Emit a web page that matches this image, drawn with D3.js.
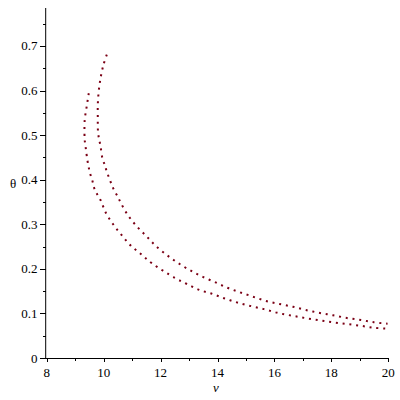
<!DOCTYPE html>
<html><head><meta charset="utf-8">
<script src="https://cdn.jsdelivr.net/npm/d3@7"></script>
<style>body{margin:0;background:#fff}svg{display:block}</style>
</head><body>
<svg id="c" width="400" height="400"></svg>
<script>
// Curve A (inner, lower) : v values and theta values
const innerV = [9.478,9.407,9.337,9.327,9.337,9.372,9.432,9.478,9.538,9.608,9.664,9.759,9.890,10.076,10.333,10.628,10.956,11.318,11.684,12.493,12.926,13.373,13.830,14.274,14.721,15.203,15.671,16.128,16.621,17.078,17.571,18.053,18.531,19.013,19.481,19.963];
const innerTheta = [0.594,0.565,0.535,0.503,0.4875,0.471,0.443,0.427,0.411,0.397,0.382,0.369,0.3545,0.326,0.300,0.276,0.252,0.2327,0.213,0.180,0.166,0.1526,0.1436,0.133,0.124,0.116,0.109,0.101,0.0949,0.0897,0.0846,0.0801,0.0763,0.0725,0.0680,0.0657];
// Curve B (outer, upper)
const outerV = [10.111,9.995,9.900,9.830,9.795,9.795,9.795,9.805,9.840,9.890,9.960,10.051,10.111,10.206,10.287,10.382,10.498,10.604,10.840,11.156,11.508,11.835,12.233,12.599,13.021,13.443,13.901,14.344,14.791,15.248,15.706,16.174,16.645,17.103,17.595,18.063,18.545,19.038,19.495,19.974];
const outerTheta = [0.6805,0.658,0.6305,0.5997,0.568,0.537,0.5205,0.5055,0.491,0.4757,0.447,0.4315,0.418,0.402,0.388,0.3747,0.362,0.348,0.3215,0.296,0.273,0.2513,0.2304,0.2138,0.1974,0.1833,0.1705,0.1577,0.1474,0.1375,0.1279,0.1212,0.1151,0.1077,0.1010,0.0958,0.0897,0.0853,0.0801,0.0770];
const xTicks = [8,10,12,14,16,18,20];
const xMinor = [9,11,13,15,17,19];
const yTicks = [0,0.1,0.2,0.3,0.4,0.5,0.6,0.7];
const yMinor = [0.05,0.15,0.25,0.35,0.45,0.55,0.65,0.75];
const yTickLabels = ["0","0.1","0.2","0.3","0.4","0.5","0.6","0.7"];
const xLabel = "v", yLabel = "θ";

const svg = d3.select("#c");
const x = d3.scaleLinear().domain([8,20]).range([46.7,388.3]);
const y = d3.scaleLinear().domain([0,0.785]).range([358,8.1]);
const col = "#7b0015";
const font = "Liberation Serif";

// axes lines
svg.append("line").attr("x1",45.7).attr("x2",388.5).attr("y1",358.5).attr("y2",358.5).attr("stroke","#000");
svg.append("line").attr("x1",45.7).attr("x2",45.7).attr("y1",8).attr("y2",358.5).attr("stroke","#000");

// x ticks
xTicks.forEach(t=>{
  svg.append("line").attr("x1",Math.round(x(t))+0.5).attr("x2",Math.round(x(t))+0.5).attr("y1",358).attr("y2",362).attr("stroke","#000");
  svg.append("text").attr("x",x(t)).attr("y",377).attr("text-anchor","middle").attr("font-family",font).attr("font-size",13).text(t);
});
xMinor.forEach(t=>{
  svg.append("line").attr("x1",Math.round(x(t))+0.5).attr("x2",Math.round(x(t))+0.5).attr("y1",358).attr("y2",361).attr("stroke","#000");
});
yTicks.forEach((t,i)=>{
  svg.append("line").attr("x1",40).attr("x2",46).attr("y1",Math.round(y(t))+0.5).attr("y2",Math.round(y(t))+0.5).attr("stroke","#000");
  svg.append("text").attr("x",37.5).attr("y",y(t)+4.5).attr("text-anchor","end").attr("font-family",font).attr("font-size",13).text(yTickLabels[i]);
});
yMinor.forEach(t=>{
  svg.append("line").attr("x1",43).attr("x2",46).attr("y1",Math.round(y(t))+0.5).attr("y2",Math.round(y(t))+0.5).attr("stroke","#000");
});
svg.append("text").attr("x",216).attr("y",392).attr("text-anchor","middle").attr("font-family",font).attr("font-style","italic").attr("font-size",13).text(xLabel);
svg.append("text").attr("x",13).attr("y",188).attr("text-anchor","middle").attr("font-family",font).attr("font-size",13).text(yLabel);

const line = d3.line().x(d=>x(d[0])).y(d=>y(d[1])).curve(d3.curveCatmullRom);
[[innerV,innerTheta],[outerV,outerTheta]].forEach(([vs,ts])=>{
  const pts = vs.map((v,i)=>[v,ts[i]]);
  svg.append("path").attr("d",line(pts)).attr("fill","none").attr("stroke",col)
    .attr("stroke-width",2).attr("stroke-dasharray","2,4.8");
});
</script>
</body></html>
